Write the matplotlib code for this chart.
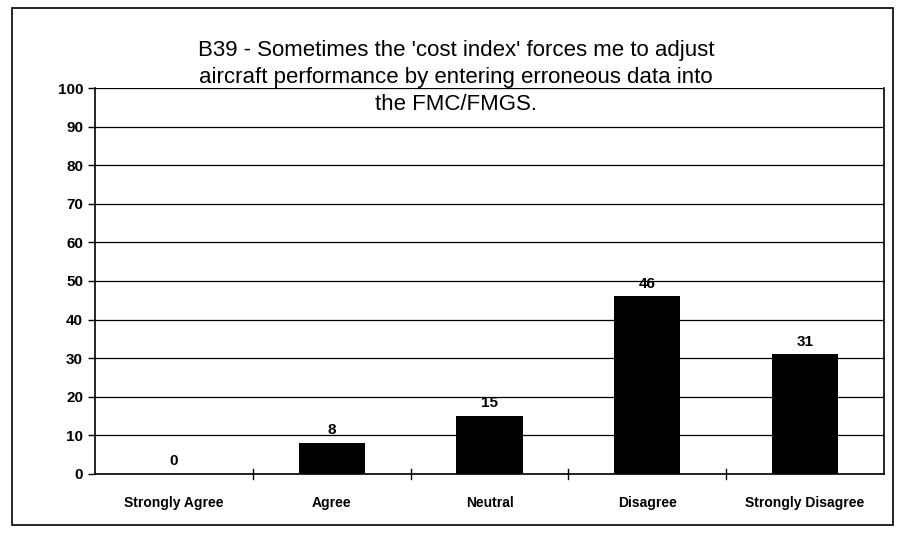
import matplotlib.pyplot as plt
from matplotlib.patches import Rectangle

categories = ['Strongly Agree', 'Agree', 'Neutral', 'Disagree', 'Strongly Disagree']
values = [0, 8, 15, 46, 31]
title = "B39 - Sometimes the 'cost index' forces me to adjust\naircraft performance by entering erroneous data into\nthe FMC/FMGS."

plt.rcParams['font.family'] = ['Liberation Sans', 'DejaVu Sans']

fig = plt.figure(figsize=(9.08, 5.36), dpi=100)
ax = fig.add_axes([0.1046, 0.1157, 0.869, 0.7201])

x = range(len(categories))
ax.bar(x, values, width=0.42, color='black', zorder=3)
for xi, v in zip(x, values):
    ax.text(xi, v + 1.5, str(v), ha='center', va='bottom', fontsize=11, fontweight='bold')

ax.set_ylim(0, 100)
ax.set_xlim(-0.5, len(categories) - 0.5)
ax.set_yticks(range(0, 101, 10))
ax.yaxis.grid(True, color='black', linewidth=0.9, zorder=0)
ax.set_xticks(list(x))
ax.set_xticklabels(categories, fontsize=10, fontweight='bold')
ax.tick_params(axis='x', length=0, pad=16)
ax.tick_params(axis='y', labelsize=11, width=1, length=5)
for lab in ax.get_yticklabels():
    lab.set_fontweight('bold')
# category separator ticks on the x axis
for b in [0.5, 1.5, 2.5, 3.5]:
    ax.plot([b, b], [-1.3, 1.3], color='black', linewidth=1, clip_on=False, zorder=4)

for s in ['left', 'bottom', 'right']:
    ax.spines[s].set_linewidth(1.2)
ax.spines['top'].set_visible(False)

fig.text(0.502, 0.926, title, ha='center', va='top', fontsize=16,
         linespacing=1.38, zorder=5)

fig.patches.append(Rectangle((12 / 908, 11 / 536), 881 / 908, 517 / 536, transform=fig.transFigure,
                             fill=False, edgecolor='black', linewidth=1.2))

fig.savefig('out.png', dpi=100)
